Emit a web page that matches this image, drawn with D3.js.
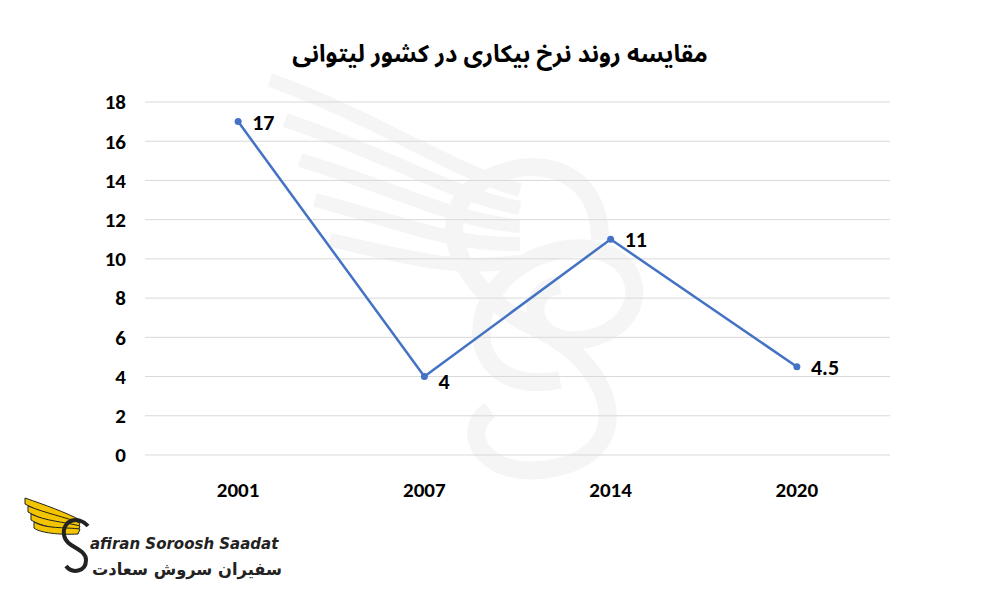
<!DOCTYPE html>
<html><head><meta charset="utf-8">
<script src="https://cdn.jsdelivr.net/npm/d3@7"></script>
<style>body{margin:0;background:#fff}</style>
</head><body>
<svg id="chart" width="1000" height="600"></svg>
<script>
const years = ['2001', '2007', '2014', '2020'];
const rates = [17, 4, 11, 4.5];
const yTicks = [0, 2, 4, 6, 8, 10, 12, 14, 16, 18];

const svg = d3.select('#chart');
const font = 'Calibri, Carlito, "Liberation Sans", Arial, sans-serif';

const x = d3.scaleBand().domain(years).range([145, 890]);
const y = d3.scaleLinear().domain([0, 18]).range([455, 102]);

// watermark (faint swan)
const wm = svg.append('g').attr('fill', 'none').attr('stroke', '#f5f5f5').attr('stroke-width', 18);
wm.append('path').attr('d', 'M560,380 C450,400 460,270 560,250 C650,235 660,330 580,340 C530,345 520,290 560,285');
wm.append('path').attr('d', 'M600,240 C600,160 520,150 470,190 C430,230 470,300 540,330 C620,370 640,460 540,470 C480,475 460,430 490,410');
[0, 1, 2, 3, 4].forEach(i => {
  wm.append('path').attr('stroke-width', 14)
    .attr('d', `M${270 + i * 15},${80 + i * 40} C${380 + i * 10},${120 + i * 35} ${450},${170 + i * 25} ${520},${190 + i * 18}`);
});

// grid
svg.append('g').selectAll('line').data(yTicks).join('line')
  .attr('x1', 145).attr('x2', 890)
  .attr('y1', d => y(d)).attr('y2', d => y(d))
  .attr('stroke', '#d9d9d9').attr('stroke-width', 1);

// y labels
svg.append('g').selectAll('text').data(yTicks).join('text')
  .attr('x', 126).attr('y', d => y(d)).attr('dy', '0.35em')
  .attr('text-anchor', 'end').attr('font-family', font)
  .attr('font-size', 21).attr('font-weight', 'bold').attr('fill', '#000')
  .text(d => d);

// x labels
svg.append('g').selectAll('text').data(years).join('text')
  .attr('x', d => x(d) + x.bandwidth() / 2).attr('y', 497)
  .attr('text-anchor', 'middle').attr('font-family', font)
  .attr('font-size', 21).attr('font-weight', 'bold').attr('fill', '#000')
  .text(d => d);

const pts = years.map((d, i) => [x(d) + x.bandwidth() / 2, y(rates[i])]);
svg.append('path').datum(pts)
  .attr('d', d3.line())
  .attr('fill', 'none').attr('stroke', '#4472c4').attr('stroke-width', 2.5);
svg.append('g').selectAll('circle').data(pts).join('circle')
  .attr('cx', d => d[0]).attr('cy', d => d[1]).attr('r', 3.5).attr('fill', '#4472c4');

svg.append('g').selectAll('text').data(pts).join('text')
  .attr('x', d => d[0] + 14).attr('y', (d, i) => d[1] + (i === 1 ? 12 : 8))
  .attr('font-family', font).attr('font-size', 22).attr('font-weight', 'bold').attr('fill', '#000')
  .text((d, i) => rates[i]);

// title
svg.append('text').attr('x', 500).attr('y', 62).attr('text-anchor', 'middle')
  .attr('font-family', '"Noto Sans Arabic", "DejaVu Sans", sans-serif')
  .attr('font-size', 24).attr('font-weight', 'bold').attr('fill', '#000')
  .attr('direction', 'rtl')
  .text('مقایسه روند نرخ بیکاری در کشور لیتوانی');

// logo
const logo = svg.append('g');
[0, 1, 2, 3].forEach(i => {
  logo.append('path')
    .attr('d', `M${25 + i * 3},${498 + i * 8} C${45},${505 + i * 8} ${65},${512 + i * 5} ${80},${520 + i * 3} L${78},${525 + i * 3} C${60},${520 + i * 5} ${40},${512 + i * 7} ${25 + i * 3},${504 + i * 8}Z`)
    .attr('fill', '#f2c500').attr('stroke', '#222').attr('stroke-width', 1);
});
logo.append('path')
  .attr('d', 'M88,526 C78,515 62,520 64,535 C66,548 86,548 86,560 C86,572 72,574 66,566')
  .attr('fill', 'none').attr('stroke', '#222').attr('stroke-width', 4);
logo.append('text').attr('x', 90).attr('y', 549)
  .attr('font-family', '"DejaVu Sans", sans-serif').attr('font-size', 15).attr('font-weight', 'bold')
  .attr('font-style', 'italic').attr('fill', '#222').text('afiran Soroosh Saadat');
logo.append('text').attr('x', 282).attr('y', 575).attr('text-anchor', 'start')
  .attr('font-family', '"DejaVu Sans", sans-serif').attr('font-size', 17).attr('font-weight', 'bold')
  .attr('fill', '#222').attr('direction', 'rtl')
  .attr('textLength', 190).attr('lengthAdjust', 'spacingAndGlyphs')
  .text('سفیران سروش سعادت');
</script>
</body></html>
